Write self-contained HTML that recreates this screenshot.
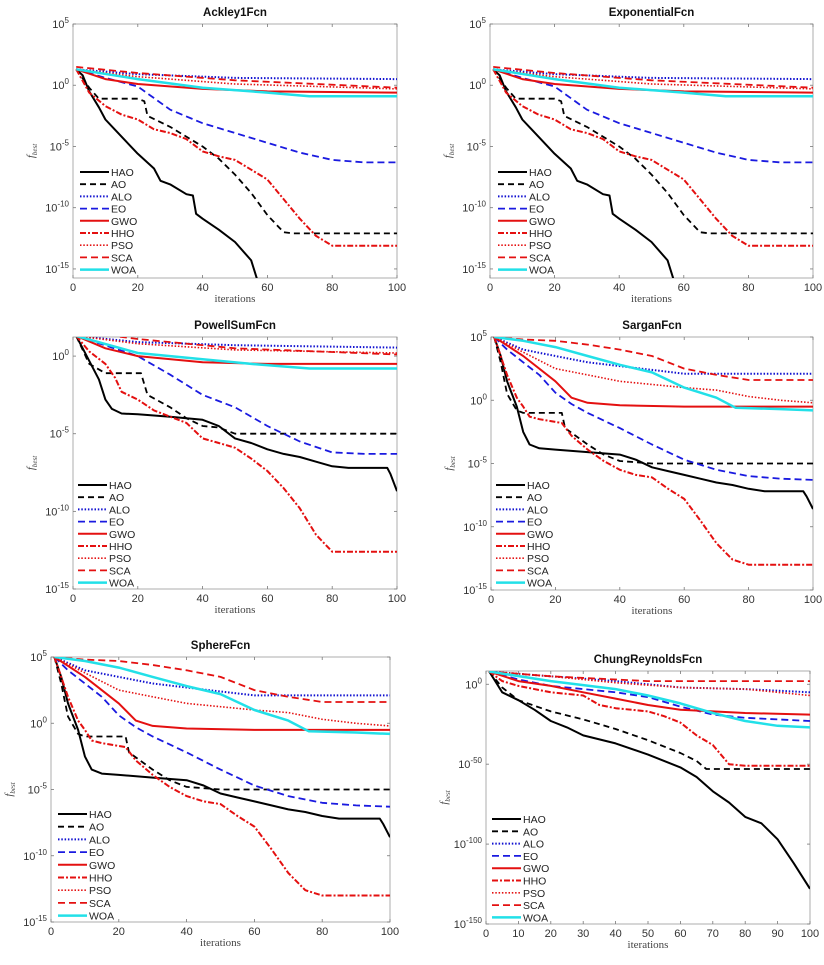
<!DOCTYPE html>
<html><head><meta charset="utf-8"><style>
body{margin:0;background:#fff}
svg{display:block;font-family:"Liberation Sans",sans-serif}
</style></head><body>
<svg id="chart" width="824" height="965" viewBox="0 0 824 965" xmlns="http://www.w3.org/2000/svg"></svg>
<script>
// ---- data (log10 of f_best at given iteration) ----
const algoNames = ["HAO","AO","ALO","EO","GWO","HHO","PSO","SCA","WOA"];
const ackley_HAO=[[1,1.3],[3,0.8],[5,-0.5],[8,-1.8],[10,-2.8],[15,-4.2],[20,-5.6],[25,-6.8],[27,-7.8],[30,-8.1],[35,-8.9],[37,-9],[38,-10.5],[40,-10.9],[45,-11.8],[50,-12.8],[55,-14.3],[57,-16]];
const ackley_AO=[[1,1.3],[5,-0.2],[8,-1.1],[20,-1.1],[22,-1.3],[23,-2.5],[30,-3.4],[40,-5],[45,-6],[50,-7.3],[55,-8.8],[60,-10.6],[65,-12],[68,-12.1],[100,-12.1]];
const ackley_ALO=[[1,1.3],[20,0.9],[50,0.6],[100,0.5]];
const ackley_EO=[[1,1.3],[10,0.6],[20,-0.1],[30,-2],[40,-3.1],[50,-3.9],[60,-4.7],[70,-5.5],[80,-6.1],[90,-6.3],[100,-6.3]];
const ackley_GWO=[[1,1.3],[10,0.5],[20,0.1],[40,-0.3],[60,-0.5],[100,-0.6]];
const ackley_HHO=[[1,1.3],[5,-0.6],[10,-1.7],[15,-2.4],[20,-2.8],[25,-3.6],[30,-3.9],[35,-4.4],[40,-5.4],[45,-5.8],[50,-6.1],[55,-6.9],[60,-7.7],[65,-9.3],[70,-10.9],[75,-12.3],[80,-13.1],[100,-13.1]];
const ackley_PSO=[[1,1.3],[20,0.7],[50,0.1],[100,-0.3]];
const ackley_SCA=[[1,1.5],[20,1.0],[50,0.4],[100,-0.2]];
const ackley_WOA=[[1,1.3],[20,0.5],[40,-0.2],[60,-0.6],[73,-0.9],[100,-0.9]];

const powell_HAO=[[1,1.3],[3,0.5],[5,-0.3],[8,-1.5],[10,-2.8],[12,-3.4],[15,-3.7],[20,-3.75],[30,-3.9],[40,-4.1],[45,-4.5],[50,-5.3],[55,-5.6],[60,-6],[65,-6.3],[70,-6.5],[75,-6.8],[80,-7.1],[85,-7.2],[97,-7.2],[98,-7.6],[100,-8.7]];
const powell_AO=[[1,1.3],[5,-0.5],[10,-1.1],[21,-1.1],[23,-2.5],[30,-3.3],[35,-4],[40,-4.5],[45,-4.6],[50,-5],[100,-5]];
const powell_ALO=[[1,1.3],[20,0.9],[50,0.7],[100,0.55]];
const powell_EO=[[1,1.3],[20,0],[30,-1.2],[40,-2.5],[50,-3.3],[60,-4.5],[70,-5.5],[80,-6.2],[90,-6.3],[100,-6.3]];
const powell_GWO=[[1,1.3],[10,0.5],[20,0],[40,-0.4],[60,-0.5],[100,-0.5]];
const powell_HHO=[[1,1.3],[5,0.3],[10,-0.5],[13,-1.4],[15,-2.3],[20,-2.8],[25,-3.5],[30,-3.9],[35,-4.3],[40,-5.3],[45,-5.6],[50,-5.9],[55,-6.6],[60,-7.4],[65,-8.5],[70,-9.8],[75,-11.5],[80,-12.6],[100,-12.6]];
const powell_PSO=[[1,1.3],[20,0.8],[50,0.4],[100,0.2]];
const powell_SCA=[[1,1.6],[20,1.1],[50,0.5],[100,0.1]];
const powell_WOA=[[1,1.3],[20,0.2],[40,-0.2],[55,-0.5],[73,-0.8],[100,-0.8]];

const sargan_HAO=[[1,5],[3,3.5],[5,1.5],[8,-0.5],[10,-2.5],[12,-3.5],[15,-3.8],[20,-3.9],[30,-4.1],[40,-4.3],[45,-4.7],[50,-5.3],[55,-5.6],[60,-5.9],[65,-6.2],[70,-6.5],[75,-6.7],[80,-7],[85,-7.2],[97,-7.2],[98,-7.6],[100,-8.6]];
const sargan_AO=[[1,5],[3,3],[5,0.5],[8,-0.8],[10,-1],[22,-1],[23,-2.2],[30,-3.5],[35,-4.3],[40,-4.8],[50,-5],[100,-5]];
const sargan_ALO=[[1,5],[10,4],[20,3.5],[30,3],[40,2.7],[50,2.4],[60,2.1],[100,2.1]];
const sargan_EO=[[1,5],[5,4],[10,3],[15,2],[20,0.6],[25,-0.3],[30,-1],[40,-2.2],[50,-3.5],[60,-4.7],[70,-5.5],[80,-6],[90,-6.2],[100,-6.3]];
const sargan_GWO=[[1,5],[10,3.5],[20,1.5],[25,0.2],[30,-0.2],[40,-0.4],[60,-0.5],[100,-0.5]];
const sargan_HHO=[[1,5],[3,3.5],[5,2],[8,0.2],[10,-0.5],[12,-1.3],[15,-1.5],[22,-1.8],[25,-2.8],[30,-3.9],[35,-4.8],[40,-5.5],[45,-5.9],[50,-6.1],[55,-7],[60,-7.8],[65,-9.5],[70,-11.3],[75,-12.6],[80,-13],[100,-13]];
const sargan_PSO=[[1,5],[10,3.8],[20,2.5],[30,2],[40,1.5],[60,1],[70,0.8],[80,0.3],[90,0],[100,-0.2]];
const sargan_SCA=[[1,5],[10,4.8],[20,4.7],[30,4.4],[40,4],[50,3.5],[60,2.5],[70,2],[80,1.6],[100,1.6]];
const sargan_WOA=[[1,5],[10,4.7],[20,4.2],[30,3.5],[40,2.8],[50,2.2],[60,1],[70,0.2],[76,-0.6],[90,-0.7],[100,-0.8]];

const chung_HAO=[[1,8],[5,-5],[10,-10],[15,-16],[20,-23],[25,-27],[30,-32],[40,-37],[50,-44],[60,-52],[65,-58],[70,-67],[75,-74],[80,-83],[85,-87],[90,-97],[95,-112],[100,-128]];
const chung_AO=[[1,8],[5,-2],[10,-10],[20,-17],[30,-22],[40,-28],[50,-35],[60,-43],[65,-48],[68,-53],[100,-53]];
const chung_ALO=[[1,8],[20,5],[40,2],[60,-2],[80,-3],[100,-5]];
const chung_EO=[[1,8],[10,3],[20,-1],[30,-3],[40,-5],[50,-8],[60,-14],[70,-19],[80,-21],[90,-22],[100,-23]];
const chung_GWO=[[1,8],[10,2],[20,-1],[30,-5],[40,-9],[50,-13],[60,-16],[70,-17],[80,-18],[100,-19]];
const chung_HHO=[[1,8],[5,2],[10,-1],[20,-5],[30,-7],[35,-13],[40,-15],[50,-17],[55,-20],[60,-24],[65,-32],[70,-38],[75,-50],[80,-51],[100,-51]];
const chung_PSO=[[1,8],[20,5],[40,1],[60,-2],[80,-3],[100,-7]];
const chung_SCA=[[1,8],[20,5],[50,2],[100,2]];
const chung_WOA=[[1,8],[20,2],[40,-3],[50,-7],[60,-12],[70,-18],[80,-23],[90,-26],[100,-27]];

const ackleySet=[ackley_HAO,ackley_AO,ackley_ALO,ackley_EO,ackley_GWO,ackley_HHO,ackley_PSO,ackley_SCA,ackley_WOA];
const powellSet=[powell_HAO,powell_AO,powell_ALO,powell_EO,powell_GWO,powell_HHO,powell_PSO,powell_SCA,powell_WOA];
const sarganSet=[sargan_HAO,sargan_AO,sargan_ALO,sargan_EO,sargan_GWO,sargan_HHO,sargan_PSO,sargan_SCA,sargan_WOA];
const chungSet=[chung_HAO,chung_AO,chung_ALO,chung_EO,chung_GWO,chung_HHO,chung_PSO,chung_SCA,chung_WOA];
const xTicksA=[0,20,40,60,80,100];
const xTicksB=[0,10,20,30,40,50,60,70,80,90,100];
const yTicks15=[5,0,-5,-10,-15];
const yTicksP=[0,-5,-10,-15];
const yTicksC=[0,-50,-100,-150];

const styles=[
 {c:"#000",w:2,d:""},{c:"#000",w:1.8,d:"6,4"},{c:"#1010d0",w:2,d:"1.5,1.8"},{c:"#1a1ae0",w:1.8,d:"7,4"},
 {c:"#e41010",w:2,d:""},{c:"#e41010",w:2,d:"6,2,2,2"},{c:"#e41010",w:1.6,d:"1.5,1.8"},{c:"#e41010",w:1.8,d:"7,4"},{c:"#22e0e8",w:2.5,d:""}];

const plots=[
 {name:"ackley1fcn",title:"Ackley1Fcn",x0:73,x1:397,yt:24,yb:278,ymax:5,ymin:-15.74,data:ackleySet,xt:xTicksA,yt2:yTicks15,lx:80,ly:172,ls:12.2},
 {name:"exponentialfcn",title:"ExponentialFcn",x0:490,x1:813,yt:24,yb:278,ymax:5,ymin:-15.74,data:ackleySet,xt:xTicksA,yt2:yTicks15,lx:498,ly:172,ls:12.2},
 {name:"powellsumfcn",title:"PowellSumFcn",x0:73,x1:397,yt:337,yb:589,ymax:1.23,ymin:-15,data:powellSet,xt:xTicksA,yt2:yTicksP,lx:78,ly:485,ls:12.2},
 {name:"sarganfcn",title:"SarganFcn",x0:491,x1:813,yt:337,yb:590,ymax:5,ymin:-15,data:sarganSet,xt:xTicksA,yt2:yTicks15,lx:496,ly:485,ls:12.2},
 {name:"spherefcn",title:"SphereFcn",x0:51,x1:390,yt:657,yb:922,ymax:5,ymin:-15,data:sarganSet,xt:xTicksA,yt2:yTicks15,lx:58,ly:814,ls:12.7},
 {name:"chungreynoldsfcn",title:"ChungReynoldsFcn",x0:486,x1:810,yt:671,yb:924,ymax:8.3,ymin:-150,data:chungSet,xt:xTicksB,yt2:yTicksC,lx:492,ly:819,ls:12.3}
];

const NS="http://www.w3.org/2000/svg";
const svg=document.getElementById("chart");
function mk(tag,attrs,parent){const e=document.createElementNS(NS,tag);for(const k in attrs)e.setAttribute(k,attrs[k]);(parent||svg).appendChild(e);return e;}

plots.forEach(p=>{
  const g=mk("g",{});
  
  
  const sx=v=>p.x0+(v/100)*(p.x1-p.x0);
  const sy=v=>p.yt+(p.ymax-v)/(p.ymax-p.ymin)*(p.yb-p.yt);
  const cp="clip-"+p.name;
  const cl=mk("clipPath",{id:cp},g);
  mk("rect",{x:p.x0,y:p.yt,width:p.x1-p.x0,height:p.yb-p.yt},cl);
  // frame
  const fr=mk("rect",{x:p.x0,y:p.yt,width:p.x1-p.x0,height:p.yb-p.yt,fill:"#fff",stroke:"#9a9a9a","stroke-width":0.8},g);
  
  
  // x ticks
  p.xt.forEach(t=>{
    const X=sx(t);
    mk("line",{x1:X,x2:X,y1:p.yb,y2:p.yb-3,stroke:"#777","stroke-width":0.8},g);
    mk("line",{x1:X,x2:X,y1:p.yt,y2:p.yt+3,stroke:"#777","stroke-width":0.8},g);
    const tx=mk("text",{x:X,y:p.yb+13,"text-anchor":"middle","font-size":"11",fill:"#333"},g);
    tx.textContent=t;
    
    
  });
  // y ticks
  p.yt2.forEach(t=>{
    const Y=sy(t);
    mk("line",{x1:p.x0,x2:p.x0+3,y1:Y,y2:Y,stroke:"#777","stroke-width":0.8},g);
    mk("line",{x1:p.x1,x2:p.x1-3,y1:Y,y2:Y,stroke:"#777","stroke-width":0.8},g);
    const tx=mk("text",{x:p.x0-4,y:Y+4,"text-anchor":"end","font-size":"11",fill:"#333"},g);
    
    
    const a=mk("tspan",{},tx);a.textContent="10";
    const b=mk("tspan",{dy:"-5","font-size":"8"},tx);b.textContent=String(t).replace("-","-");
  });
  // title
  const ti=mk("text",{x:(p.x0+p.x1)/2,y:p.yt-8,"text-anchor":"middle","font-size":"11.5","font-weight":"bold",fill:"#111"},g);
  ti.textContent=p.title;
  
  
  const xl=mk("text",{x:(p.x0+p.x1)/2,y:p.yb+24,"text-anchor":"middle","font-size":"11","font-family":"Liberation Serif,serif",fill:"#444"},g);
  xl.textContent="iterations";
  
  
  const yl=mk("text",{x:0,y:0,"text-anchor":"middle","font-size":"11","font-style":"italic","font-family":"Liberation Serif,serif",fill:"#444",transform:`translate(${p.x0-39},${(p.yt+p.yb)/2}) rotate(-90)`},g);
  
  
  const y1=mk("tspan",{},yl);y1.textContent="f";
  const y2=mk("tspan",{dy:"3","font-size":"7"},yl);y2.textContent="best";
  // series
  const sg=mk("g",{"clip-path":`url(#${cp})`},g);
  p.data.forEach((ser,i)=>{
    const s=styles[i];
    const pts=ser.map(d=>sx(d[0]).toFixed(1)+","+sy(d[1]).toFixed(1)).join(" ");
    const pl=mk("polyline",{points:pts,fill:"none",stroke:s.c,"stroke-width":s.w,"stroke-dasharray":s.d,"stroke-linejoin":"round"},sg);
    
    
  });
  // legend
  const lg=mk("g",{},g);
  
  
  algoNames.forEach((n,i)=>{
    const s=styles[i];const Y=p.ly+i*p.ls;
    const en=mk("g",{},lg);
    
    
    mk("line",{x1:p.lx,x2:p.lx+29,y1:Y,y2:Y,stroke:s.c,"stroke-width":s.w,"stroke-dasharray":s.d},en);
    const t=mk("text",{x:p.lx+31,y:Y+4,"font-size":"10.5",fill:"#222"},en);t.textContent=n;
  });
});
</script>
</body></html>
